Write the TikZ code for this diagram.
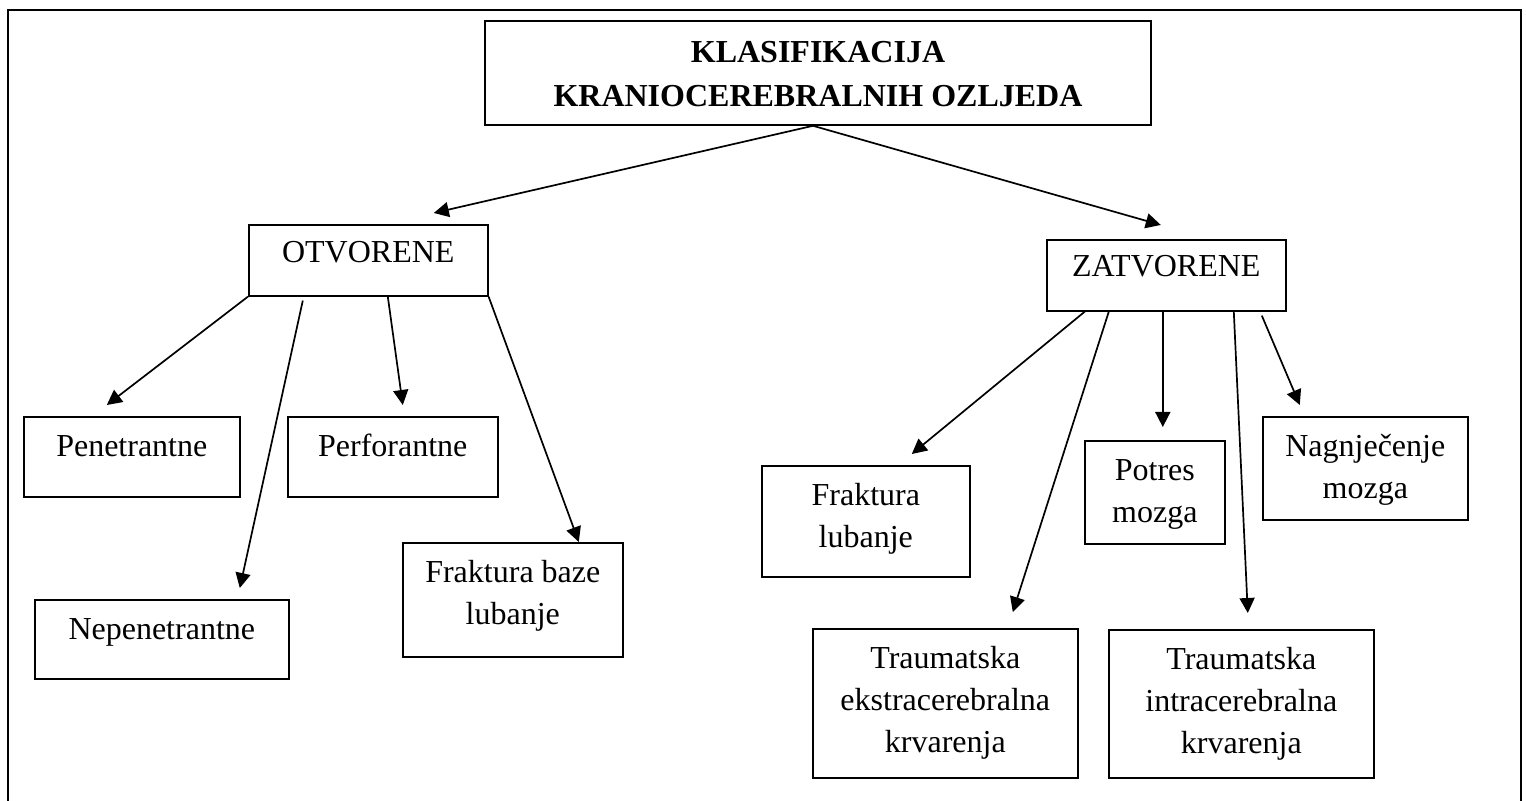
\documentclass[tikz,border=0pt]{standalone}
\usepackage{fontspec}
\setmainfont{Liberation Serif}
\usetikzlibrary{arrows.meta}

\begin{document}
\begin{tikzpicture}[
        x=0.5pt, y=-0.5pt,
        >={Triangle[length=7.5pt, width=7.5pt]},
        box/.style={rectangle, draw, line width=0.8pt, inner sep=0pt, anchor=north west,
                align=center, text height=20pt, font=\fontsize{16}{21}\selectfont},
        twoline/.style={text height=41pt},
        threeline/.style={text height=62pt},
        headbox/.style={rectangle, draw, line width=0.8pt, inner sep=0pt, align=center,
                minimum width=333pt, text height=43pt, text depth=9pt,
                font=\fontsize{16}{22}\selectfont\bfseries},
        arrow/.style={->, line width=0.85pt},
        ]

    \useasboundingbox (0,0) rectangle (1526,801);
    \draw[line width=1pt] (8,801) -- (8,10) -- (1521,10) -- (1521,801);

    \node[headbox] (head) at (818,73) {KLASIFIKACIJA\\KRANIOCEREBRALNIH OZLJEDA};

    % otvorene
    \node[box, minimum width=119.5pt, text height=19pt, text depth=16.5pt] (otv) at (248,224) {OTVORENE};
    \node[box, minimum width=108pt, text depth=20pt] (pen) at (23,416) {Penetrantne};
    \node[box, minimum width=105pt, text depth=20pt] (perf) at (287,416) {Perforantne};
    \node[box, minimum width=127pt, text depth=19.5pt] (nepen) at (34,599) {Nepenetrantne};
    \node[box, twoline, minimum width=110pt, text depth=16pt] (fbaze) at (402,542) {Fraktura baze\\lubanje};

    % zatvorene
    \node[box, minimum width=119.5pt, text height=18.5pt, text depth=17pt] (zat) at (1046,239) {ZATVORENE};
    \node[box, twoline, minimum width=104pt, text depth=14.5pt] (flub) at (761,465) {Fraktura\\lubanje};
    \node[box, twoline, minimum width=70pt, text depth=10.5pt] (potres) at (1084,440) {Potres\\mozga};
    \node[box, twoline, minimum width=102.5pt, text depth=10.5pt] (nagn) at (1262,416) {Nagnječenje\\mozga};
    \node[box, threeline, minimum width=132.5pt, text depth=12.5pt] (ekstra) at (812,628) {Traumatska\\ekstracerebralna\\krvarenja};
    \node[box, threeline, minimum width=132.5pt, text depth=12pt] (intra) at (1108,629) {Traumatska\\intracerebralna\\krvarenja};

    \draw[arrow] ([xshift=-2.5pt]head.south) -- ([xshift=32.75pt, yshift=5.5pt]otv.north);
    \draw[arrow] ([xshift=-2.5pt]head.south) -- ([xshift=-2.75pt, yshift=7pt]zat.north);

    \draw[arrow] (otv.south west) -- ([xshift=-12.5pt, yshift=5.5pt]pen.north);
    \draw[arrow] ([xshift=-32.75pt, yshift=-2pt]otv.south) -- ([xshift=39pt, yshift=5.5pt]nepen.north);
    \draw[arrow] ([xshift=9.75pt]otv.south) -- ([xshift=5pt, yshift=5.5pt]perf.north);
    \draw[arrow] (otv.south east) -- ([xshift=33pt]fbaze.north);

    \draw[arrow] ([xshift=-40.75pt]zat.south) -- ([xshift=23pt, yshift=5.5pt]flub.north);
    \draw[arrow] ([xshift=-28.75pt]zat.south) -- ([xshift=33.75pt, yshift=8pt]ekstra.north);
    \draw[arrow] ([xshift=-1.75pt]zat.south) -- ([xshift=4pt, yshift=6.5pt]potres.north);
    \draw[arrow] ([xshift=33.75pt]zat.south) -- ([xshift=3.25pt, yshift=8pt]intra.north);
    \draw[arrow] ([xshift=47.75pt, yshift=-2pt]zat.south) -- ([xshift=-32.75pt, yshift=5.5pt]nagn.north);

\end{tikzpicture}
\end{document}
